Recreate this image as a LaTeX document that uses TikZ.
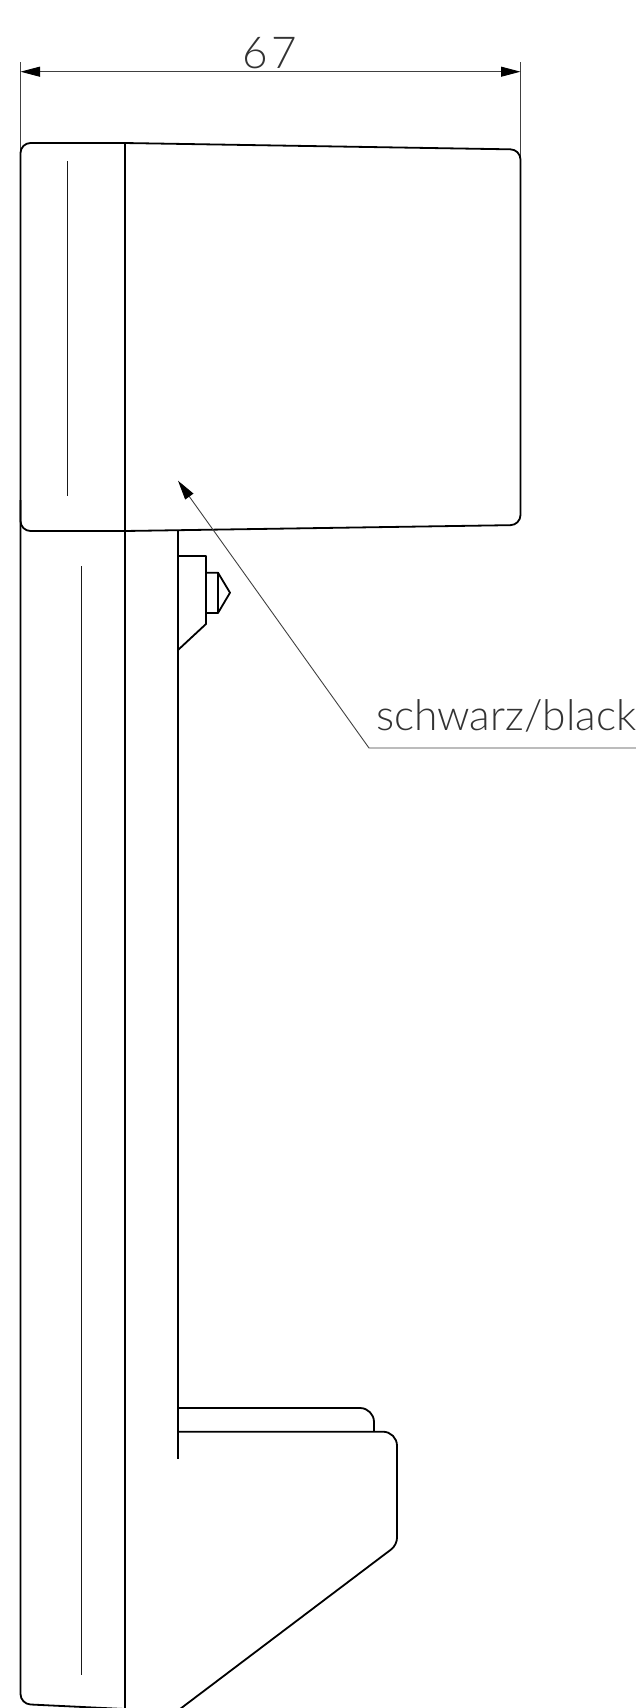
\documentclass[tikz,border=0pt]{standalone}
\usepackage{fontspec}
\usetikzlibrary{arrows.meta}
\newfontfamily\draftfont{Lato}[UprightFont=* Light]
\newfontfamily\draftwide{Lato}[UprightFont=* Light,LetterSpace=8]
\tikzset{
  outline/.style={line width=1.8pt,black,line join=round},
  hair/.style={line width=.9pt,black!90},
  dimline/.style={line width=.9pt,black!75},
  solidtip/.tip={Triangle[length=19.5pt,width=10pt,black]},
  lettering/.style={inner sep=0pt,text=black!80,font=\draftfont}
}
\begin{document}
\begin{tikzpicture}[x=1pt,y=-1pt]
\useasboundingbox (0,0) rectangle (636,1708);
\clip (0,0) rectangle (636,1708);
% named points
\coordinate (extL) at (20.5,62);
\coordinate (extLb) at (20.5,150);
\coordinate (extR) at (520.5,62);
\coordinate (extRb) at (520.5,158);
\coordinate (dimL) at (20.5,71.7);
\coordinate (dimR) at (520.5,71.7);
\coordinate (tip) at (178,480.7);
\coordinate (knee) at (369,748);
\coordinate (shelfEnd) at (636,748);
% dimension
\draw[dimline] (extL) -- (extLb);
\draw[dimline] (extR) -- (extRb);
\draw[dimline,solidtip-solidtip] (dimL) -- (dimR);
\node[lettering,font=\draftwide\fontsize{44}{44}\selectfont,anchor=base] (dimtext) at (270,68) {67};
% head
\draw[outline,rounded corners=10pt]
  (20.5,300) -- (20.5,143) -- (124.7,143) -- (520.5,149.5) -- (520.5,525) -- (124.7,531) -- (20.5,531) -- cycle;
% body verticals
\draw[outline,rounded corners=10pt] (20.5,500) -- (20.5,1704) -- (124.7,1709);
\draw[outline] (124.7,143) -- (124.7,1708);
\draw[outline] (178,531) -- (178,1459);
% inner hairlines
\draw[hair] (67.3,161) -- (67.3,496);
\draw[hair] (81.4,566) -- (81.4,1675);
% clip bump
\draw[outline] (178,556) -- (206,556) -- (206,624) -- (178,650);
\draw[outline] (206,572.7) -- (218,572.7) -- (230,592.7) -- (218,613) -- (206,613);
\draw[outline] (218,572.7) -- (218,613);
% foot
\draw[outline,rounded corners=14pt] (178,1408) -- (374,1408) -- (374,1431.7);
\draw[outline] (178,1431.7) [rounded corners=14pt] -- (397,1431.7) [rounded corners=7pt] -- (397,1545) -- (180,1709);
% leader
\draw[dimline,-solidtip] (shelfEnd) -- (knee) -- (tip);
\node[lettering,font=\draftfont\fontsize{42.5}{42.5}\selectfont,anchor=base west] (label) at (376,730) {schwarz/black};
\end{tikzpicture}
\end{document}
